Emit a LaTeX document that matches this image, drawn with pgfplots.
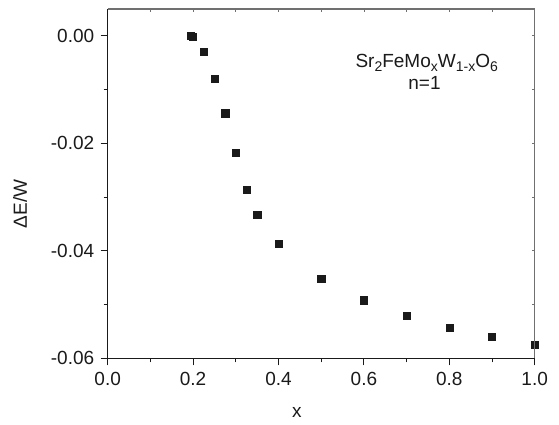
\documentclass[border=0pt]{standalone}
\usepackage{fontspec}
\setmainfont{Liberation Sans}
\usepackage{pgfplots}
\pgfplotsset{compat=1.18}
\definecolor{ink}{HTML}{1A1A1A}
\definecolor{frame}{HTML}{707070}
\newcommand{\sub}[1]{\raisebox{-0.4ex}{\fontsize{14}{16}\selectfont #1}}

\begin{document}
\fontsize{19}{22}\selectfont
\begin{tikzpicture}
% main axis: left and bottom, outside ticks, labels
\begin{axis}[
  at={(0,0)}, anchor=south west,
  scale only axis, width=427pt, height=349.3pt,
  xmin=0, xmax=1, ymin=-0.06, ymax=0.005,
  axis x line*=bottom, axis y line*=left,
  axis line style={line width=1pt, draw=ink},
  tick align=outside,
  tick style={line width=0.9pt, draw=ink},
  major tick length=7pt, minor tick length=4pt,
  xtick={0,0.2,0.4,0.6,0.8,1.0},
  ytick={-0.06,-0.04,-0.02,0},
  minor x tick num=1, minor y tick num=1,
  scaled ticks=false,
  /pgf/number format/assume math mode=true,
  xticklabel style={/pgf/number format/fixed, /pgf/number format/fixed zerofill, /pgf/number format/precision=1},
  yticklabel style={/pgf/number format/fixed, /pgf/number format/fixed zerofill, /pgf/number format/precision=2},
  ticklabel style={font=\fontsize{19}{22}\selectfont, text=ink},
  xlabel={x},
  xlabel style={at={(axis description cs:0.443,0)}, anchor=center, yshift=-54pt},
  ylabel={ΔE/W},
  ylabel style={at={(axis description cs:-0.2054,0.442)}, anchor=center},
  label style={font=\fontsize{19}{22}\selectfont, text=ink},
  clip=false,
]
\addplot[only marks, mark=square*, mark size=3.6pt, color=ink] coordinates {
  (0.195, 0.0000)
  (0.200,-0.0002)
  (0.225,-0.0030)
  (0.250,-0.0079)
  (0.275,-0.0144)
  (0.300,-0.0218)
  (0.325,-0.0287)
  (0.350,-0.0333)
  (0.400,-0.0387)
  (0.500,-0.0452)
  (0.600,-0.0492)
  (0.700,-0.0521)
  (0.800,-0.0543)
  (0.900,-0.0560)
  (1.000,-0.0575)
};
\node[text=ink, font=\fontsize{19}{22}\selectfont] at (axis description cs:0.747,0.845)
  {Sr\sub{2}FeMo\sub{x}W\sub{1-x}O\sub{6}};
\node[text=ink, font=\fontsize{19}{22}\selectfont] at (axis description cs:0.742,0.789) {n=1};
\end{axis}
% mirror axis: top and right, small inside ticks
\begin{axis}[
  at={(0,0)}, anchor=south west,
  scale only axis, width=427pt, height=349.3pt,
  xmin=0, xmax=1, ymin=-0.06, ymax=0.005,
  axis x line*=top, axis y line*=right,
  axis line style={line width=1.3pt, draw=frame},
  tick align=inside,
  tick style={line width=0.8pt, draw=frame},
  major tick length=3pt,
  scaled ticks=false,
  xtick={0.1,0.2,0.3,0.4,0.5,0.6,0.7,0.8,0.9},
  ytick={-0.05,-0.04,-0.03,-0.02,-0.01,0},
  xticklabels={}, yticklabels={},
]
\end{axis}
\pgfresetboundingbox
\path (-107.7pt,-66.7pt) rectangle (451.3pt,358.3pt);
\end{tikzpicture}
\end{document}
